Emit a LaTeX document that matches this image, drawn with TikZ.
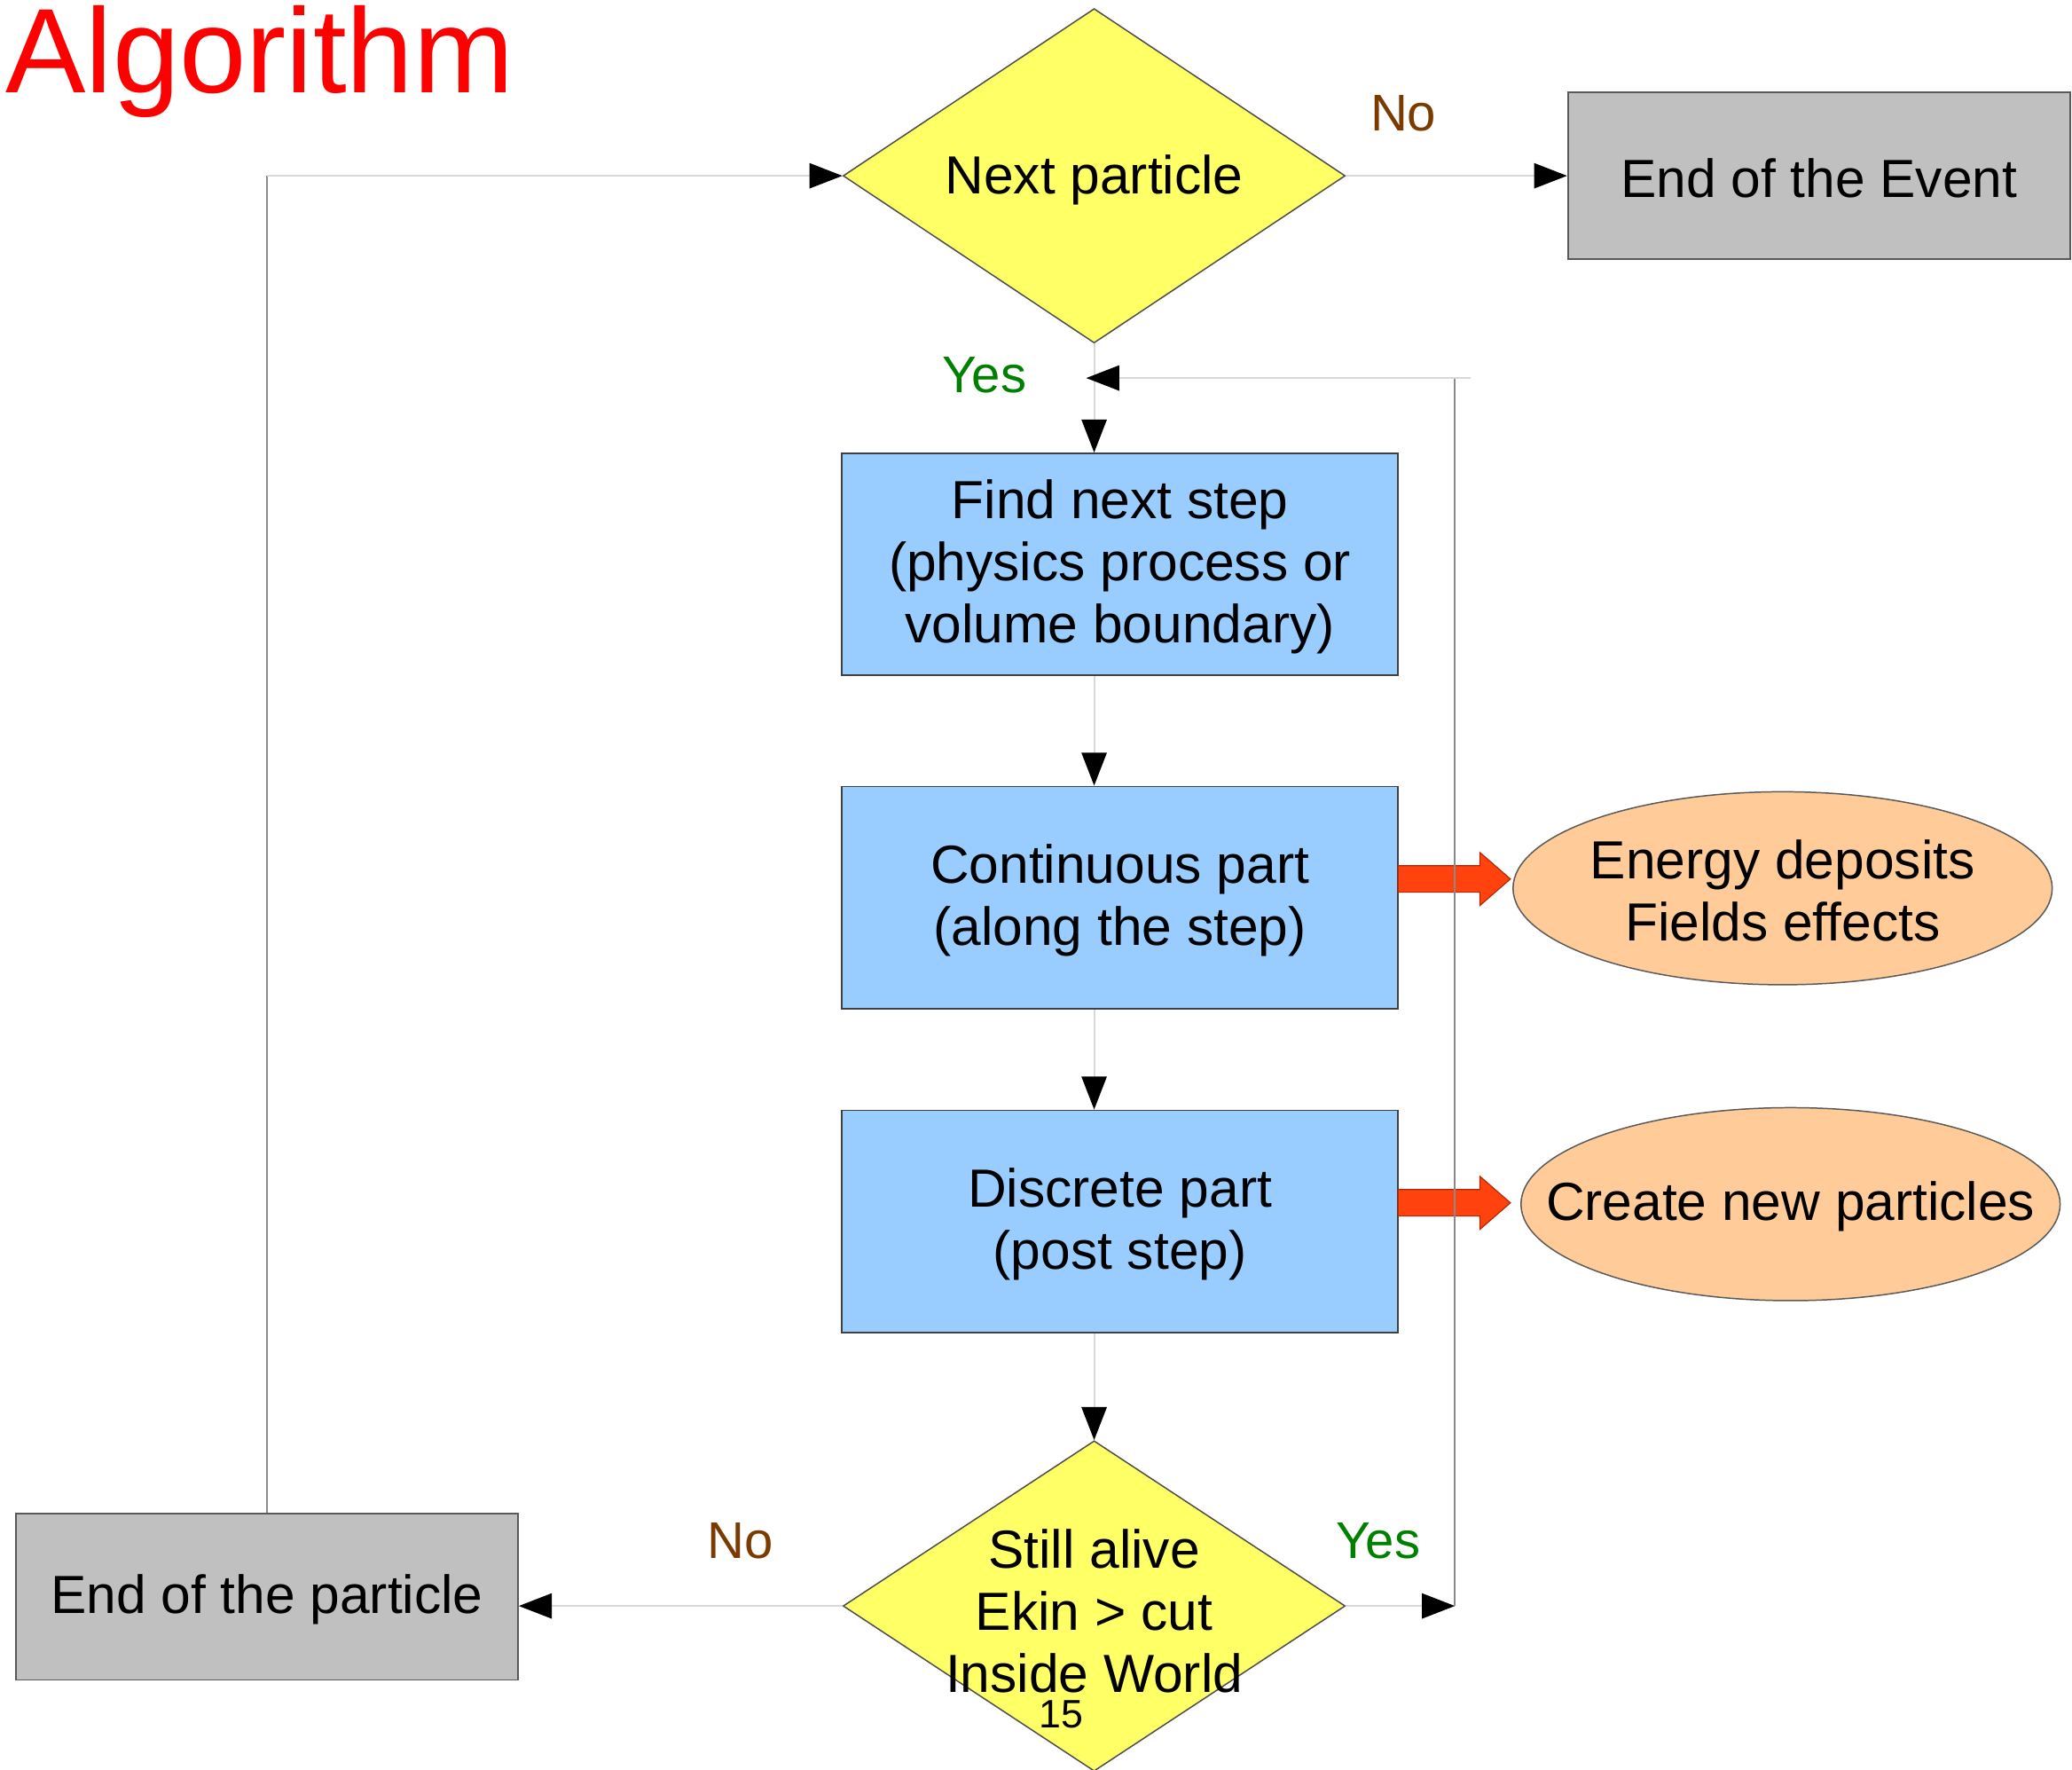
\documentclass[tikz,border=0pt]{standalone}
\usepackage{fontspec}
\setmainfont{Liberation Sans}
\usetikzlibrary{shapes.geometric,arrows.meta,calc}
\definecolor{dyellow}{HTML}{FFFF66}
\definecolor{dblue}{HTML}{99CCFF}
\definecolor{dgray}{HTML}{C0C0C0}
\definecolor{dpeach}{HTML}{FFCC99}
\definecolor{noclr}{HTML}{7A3A00}
\definecolor{yesclr}{HTML}{008000}
\definecolor{redarrow}{HTML}{FF420E}
\definecolor{redline}{HTML}{B02A05}
\definecolor{lightline}{HTML}{D8D8D8}
\definecolor{darkline}{HTML}{8A8A8A}
\tikzset{
  txt/.style={font=\fontsize{20.3pt}{23.5pt}\selectfont, align=center, inner sep=0pt},
  lbl/.style={font=\fontsize{19.5pt}{22pt}\selectfont, inner sep=0pt},
  decision/.style={diamond, draw=black!70, fill=dyellow, line width=0.5pt, inner sep=0pt, minimum width=190pt, minimum height=126.5pt},
  stepbox/.style={rectangle, draw=black!75, fill=dblue, line width=0.6pt, minimum width=210.5pt, minimum height=84pt, inner sep=0pt},
  endbox/.style={rectangle, draw=black!65, fill=dgray, line width=0.6pt, minimum width=190pt, minimum height=63pt, inner sep=0pt},
  outcome/.style={ellipse, draw=black!65, fill=dpeach, line width=0.5pt, minimum width=204pt, minimum height=73pt, inner sep=0pt},
  flow/.style={draw=lightline, line width=0.7pt},
  loop/.style={draw=darkline, line width=0.7pt},
  tip/.style={-{Triangle[length=12.5pt,width=9.5pt,color=black]}},
  blockarrow/.style={fill=redarrow, draw=redline, line width=0.4pt}
}
\begin{document}
\begin{tikzpicture}[x=0.5pt,y=-0.5pt]
\useasboundingbox (0,0) rectangle (1568,1339);
% title
\node[anchor=base west, inner sep=0pt, text=red, font=\fontsize{45.5pt}{50pt}\selectfont] (title) at (4,70) {Algorithm};
% shapes
\node[decision] (d1) at (828,133) {};
\node[txt] (d1t) at (828,136) {Next particle};
\node[endbox] (ev) at (1376.5,133) {};
\node[txt] (evt) at (1376.5,135) {End of the Event};
\node[stepbox] (b1) at (847.5,427) {};
\node[txt] (b1t) at (847.5,429) {Find next step\\(physics process or\\volume boundary)};
\node[stepbox] (b2) at (847.5,679) {};
\node[txt] (b2t) at (847.5,681) {Continuous part\\(along the step)};
\node[stepbox] (b3) at (847.5,924) {};
\node[txt] (b3t) at (847.5,926) {Discrete part\\(post step)};
\node[decision, minimum height=125pt] (d2) at (828,1215) {};
\node[txt] (d2t) at (828,1219) {Still alive\\Ekin > cut\\Inside World};
\node[endbox] (pe) at (202,1208) {};
\node[txt] (pet) at (202,1210) {End of the particle};
\node[outcome] (e1) at (1349,672) {};
\node[txt] (e1t) at (1349,674) {Energy deposits\\Fields effects};
\node[outcome] (e2) at (1355,911) {};
\node[txt] (e2t) at (1355,913) {Create new particles};
% labels
\node[lbl, text=noclr] (no1) at (1062,86) {No};
\node[lbl, text=yesclr] (yes1) at (745,284) {Yes};
\node[lbl, text=noclr] (no2) at (560,1166) {No};
\node[lbl, text=yesclr] (yes2) at (1043,1166) {Yes};
\node[inner sep=0pt, font=\fontsize{15pt}{17pt}\selectfont] (pg) at (803,1297) {15};
% block arrows
\fill[blockarrow] (1058,655) -- (1120,655) -- (1120,645) -- (1143,665) -- (1120,685) -- (1120,675) -- (1058,675) -- cycle;
\fill[blockarrow] (1058,900) -- (1120,900) -- (1120,890) -- (1143,910) -- (1120,930) -- (1120,920) -- (1058,920) -- cycle;
% coordinates
\coordinate (j) at (822,286);
\coordinate (r1) at (1101,1215);
\coordinate (r2) at (1101,286);
\coordinate (r3) at (1113,286);
\coordinate (l1) at (202,133);
% main flow
\draw[flow, tip] (d1.east) -- (ev.west);
\draw[flow] (d1.south) -- (d1.south |- j);
\draw[flow, tip] (d1.south |- j) -- (d1.south |- b1.north);
\draw[flow, tip] (d1.south |- b1.south) -- (d1.south |- b2.north);
\draw[flow, tip] (d1.south |- b2.south) -- (d1.south |- b3.north);
\draw[flow, tip] (d1.south |- b3.south) -- (d2.north);
\draw[flow, tip] (d2.west) -- (d2.west -| pe.east);
% loops
\draw[flow, tip] (d2.east) -- (r1);
\draw[loop] (r1) -- (r2);
\draw[flow, tip] (r3) -- (j);
\draw[loop] (pe.north) -- (l1);
\draw[flow, tip] (l1) -- (d1.west);
\end{tikzpicture}
\end{document}
